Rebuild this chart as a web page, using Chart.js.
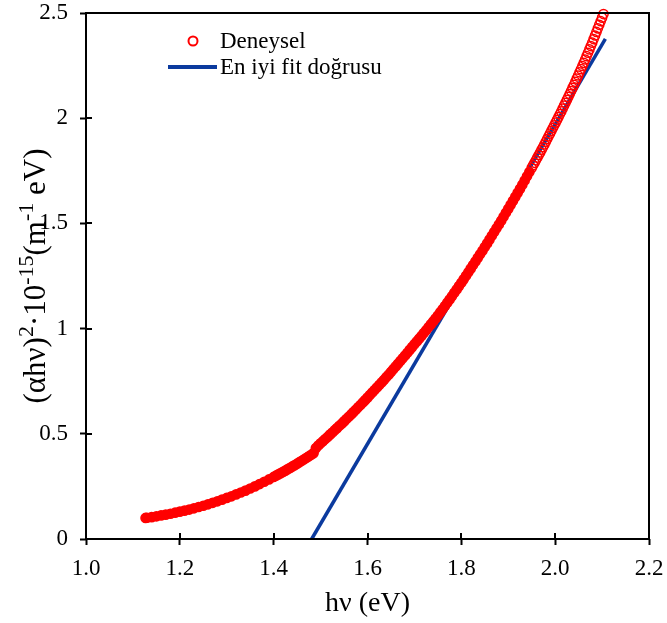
<!DOCTYPE html>
<html>
<head>
<meta charset="utf-8">
<script src="https://cdn.jsdelivr.net/npm/chart.js@4.4.1/dist/chart.umd.min.js"></script>
<style>
  html, body { margin: 0; padding: 0; background: #ffffff; }
  #wrap { width: 667px; height: 623px; }
</style>
</head>
<body>
<div id="wrap"><canvas id="c" width="667" height="623"></canvas></div>
<script>
// ---- data ----
const hv = [
  1.127, 1.13, 1.14, 1.15, 1.16, 1.17, 1.18, 1.19, 1.20, 1.21, 1.22, 1.23, 1.24, 1.25, 1.26,
  1.27, 1.28, 1.29, 1.30, 1.31, 1.32, 1.33, 1.34, 1.35, 1.36, 1.37, 1.38, 1.39, 1.40,
  1.405, 1.41, 1.415, 1.42, 1.425, 1.43, 1.435, 1.44, 1.445, 1.45, 1.455, 1.46, 1.465, 1.47, 1.475, 1.48, 1.485, 1.49, 1.495, 1.50,
  1.505, 1.51, 1.515, 1.52, 1.525, 1.53, 1.535, 1.54, 1.545, 1.55, 1.555, 1.56, 1.565, 1.57, 1.575, 1.58, 1.585, 1.59, 1.595, 1.60,
  1.605, 1.61, 1.615, 1.62, 1.625, 1.63, 1.635, 1.64, 1.645, 1.65, 1.655, 1.66, 1.665, 1.67, 1.675, 1.68, 1.685, 1.69, 1.695, 1.70,
  1.705, 1.71, 1.715, 1.72, 1.725, 1.73, 1.735, 1.74, 1.745, 1.75, 1.755, 1.76, 1.765, 1.77, 1.775, 1.78, 1.785, 1.79, 1.795, 1.80,
  1.805, 1.81, 1.815, 1.82, 1.825, 1.83, 1.835, 1.84, 1.845, 1.85, 1.855, 1.86, 1.865, 1.87, 1.875, 1.88, 1.885, 1.89, 1.895, 1.90,
  1.905, 1.91, 1.915, 1.92, 1.925, 1.93, 1.935, 1.94, 1.945, 1.95,
  1.953, 1.956, 1.959, 1.962, 1.965, 1.968, 1.971, 1.974, 1.977, 1.980, 1.983, 1.986,
  1.989, 1.992, 1.995, 1.998, 2.001, 2.004, 2.007, 2.010, 2.013, 2.016, 2.019, 2.022,
  2.025, 2.028, 2.031, 2.034, 2.037, 2.040, 2.043, 2.046, 2.049, 2.052, 2.055, 2.058,
  2.061, 2.064, 2.067, 2.070, 2.073, 2.076, 2.079, 2.082, 2.085, 2.088, 2.091, 2.094,
  2.097, 2.100, 2.103
];
const alphaHv2 = [
  0.100, 0.101, 0.104, 0.108, 0.112, 0.116, 0.120, 0.125, 0.130, 0.135, 0.140, 0.146, 0.152, 0.158, 0.165,
  0.172, 0.179, 0.187, 0.195, 0.203, 0.212, 0.221, 0.230, 0.240, 0.250, 0.261, 0.272, 0.283, 0.295,
  0.301, 0.307, 0.313, 0.319, 0.325, 0.332, 0.338, 0.345, 0.351, 0.358, 0.365, 0.372, 0.379, 0.386, 0.393, 0.400, 0.408, 0.432, 0.444, 0.455,
  0.465, 0.475, 0.485, 0.496, 0.506, 0.517, 0.527, 0.538, 0.548, 0.559, 0.570, 0.581, 0.592, 0.603, 0.614, 0.626, 0.637, 0.649, 0.660, 0.672,
  0.684, 0.696, 0.708, 0.720, 0.732, 0.744, 0.756, 0.769, 0.781, 0.794, 0.807, 0.820, 0.833, 0.846, 0.859, 0.872, 0.885, 0.899, 0.912, 0.926,
  0.939, 0.952, 0.965, 0.979, 0.992, 1.006, 1.020, 1.034, 1.048, 1.062, 1.077, 1.092, 1.107, 1.123, 1.138, 1.154, 1.170, 1.186, 1.202, 1.218,
  1.234, 1.251, 1.268, 1.285, 1.302, 1.319, 1.336, 1.353, 1.370, 1.388, 1.405, 1.423, 1.441, 1.459, 1.477, 1.495, 1.513, 1.532, 1.551, 1.569,
  1.588, 1.607, 1.626, 1.645, 1.664, 1.684, 1.704, 1.724, 1.744, 1.764,
  1.776, 1.788, 1.800, 1.813, 1.825, 1.837, 1.850, 1.862, 1.875, 1.888, 1.901, 1.914,
  1.927, 1.940, 1.953, 1.966, 1.979, 1.992, 2.005, 2.019, 2.032, 2.046, 2.060, 2.073,
  2.087, 2.101, 2.115, 2.129, 2.144, 2.158, 2.173, 2.188, 2.203, 2.218, 2.233, 2.248,
  2.263, 2.279, 2.295, 2.311, 2.327, 2.343, 2.359, 2.376, 2.393, 2.410, 2.427, 2.444,
  2.461, 2.478, 2.495
];
if (hv.length !== alphaHv2.length) throw new Error('length mismatch ' + hv.length + ' vs ' + alphaHv2.length);
const fitHv = [1.481, 2.107];
const fitY  = [0, 2.377];
const xTicks = [1.0, 1.2, 1.4, 1.6, 1.8, 2.0, 2.2];
const yTicks = [0, 0.5, 1, 1.5, 2, 2.5];
const seriesNames = ['Deneysel', 'En iyi fit doğrusu'];
const xTitle = 'hν (eV)';
// y title pieces: [text, isSuperscript]
const yTitleParts = [['(αhν)', false], ['2', true], ['·10', false], ['-15', true], ['(m', false], ['-1', true], [' eV)', false]];

const RED = '#ff0000';
const BLUE = '#0b3a9e';
const SERIF = "'Liberation Serif', 'Times New Roman', serif";

const frameAndExtras = {
  id: 'frameAndExtras',
  afterDraw(chart) {
    const ctx = chart.ctx;
    const a = chart.chartArea;
    const xs = chart.scales.x, ys = chart.scales.y;
    ctx.save();
    // frame
    ctx.strokeStyle = '#000';
    ctx.lineWidth = 2;
    ctx.strokeRect(a.left, a.top, a.right - a.left, a.bottom - a.top);
    // inner tick halves
    ctx.beginPath();
    xs.ticks.forEach(t => {
      const px = Math.round(xs.getPixelForValue(t.value));
      ctx.moveTo(px, a.bottom); ctx.lineTo(px, a.bottom - 6);
    });
    ys.ticks.forEach(t => {
      const py = Math.round(ys.getPixelForValue(t.value));
      ctx.moveTo(a.left, py); ctx.lineTo(a.left + 6, py);
    });
    ctx.stroke();

    // legend
    const ds0 = chart.data.datasets[0], ds1 = chart.data.datasets[1];
    ctx.font = '23px ' + SERIF;
    ctx.fillStyle = '#000';
    ctx.textAlign = 'left';
    ctx.textBaseline = 'middle';
    ctx.beginPath();
    ctx.arc(193, 41, 4.5, 0, Math.PI * 2);
    ctx.strokeStyle = ds0.pointBorderColor;
    ctx.lineWidth = 2;
    ctx.stroke();
    ctx.fillText(ds0.label, 220, 42);
    ctx.beginPath();
    ctx.moveTo(168, 67); ctx.lineTo(217, 67);
    ctx.strokeStyle = ds1.borderColor;
    ctx.lineWidth = 4;
    ctx.stroke();
    ctx.fillText(ds1.label, 220, 68);

    // y axis title with superscripts
    const fs = 31, sfs = 22;
    ctx.translate(36, 276);
    ctx.rotate(-Math.PI / 2);
    ctx.textBaseline = 'alphabetic';
    let total = 0;
    yTitleParts.forEach(([t, sup]) => {
      ctx.font = (sup ? sfs : fs) + 'px ' + SERIF;
      total += ctx.measureText(t).width;
    });
    let x = -total / 2;
    yTitleParts.forEach(([t, sup]) => {
      ctx.font = (sup ? sfs : fs) + 'px ' + SERIF;
      ctx.fillText(t, x, sup ? -3 : 8.5);
      x += ctx.measureText(t).width;
    });
    ctx.restore();
  }
};

new Chart(document.getElementById('c'), {
  type: 'scatter',
  data: {
    datasets: [
      {
        label: seriesNames[0],
        data: hv.map((v, i) => ({ x: v, y: alphaHv2[i] })),
        pointRadius: 4.6,
        pointBorderWidth: 1.5,
        pointBorderColor: RED,
        pointBackgroundColor: (c) => (c.raw && c.raw.x < 1.95) ? RED : 'rgba(255,0,0,0)',
        showLine: false,
        clip: false,
        order: 0
      },
      {
        label: seriesNames[1],
        type: 'line',
        data: fitHv.map((v, i) => ({ x: v, y: fitY[i] })),
        borderColor: BLUE,
        borderWidth: 3.5,
        pointRadius: 0,
        fill: false,
        clip: false,
        order: 1
      }
    ]
  },
  options: {
    responsive: false,
    animation: false,
    devicePixelRatio: 1,
    events: [],
    layout: { padding: { left: 0, right: 18, top: 13, bottom: 0 } },
    plugins: { legend: { display: false }, tooltip: { enabled: false } },
    scales: {
      x: {
        type: 'linear',
        min: 1.0, max: 2.2,
        afterBuildTicks: (s) => { s.ticks = xTicks.map(v => ({ value: v })); },
        afterFit: (s) => { s.height = 84; s.paddingLeft = 0; s.paddingRight = 0; },
        border: { display: false },
        grid: { drawOnChartArea: false, drawTicks: true, tickLength: 6, tickColor: '#000', tickWidth: 2 },
        ticks: {
          color: '#000', padding: 10, maxRotation: 0, autoSkip: false,
          font: { family: SERIF, size: 23 },
          callback: (v) => Number(v).toFixed(1)
        },
        title: {
          display: true, text: xTitle, color: '#000',
          font: { family: SERIF, size: 28 },
          padding: { top: 0, bottom: 3 }
        }
      },
      y: {
        type: 'linear',
        min: 0, max: 2.5,
        afterBuildTicks: (s) => { s.ticks = yTicks.map(v => ({ value: v })); },
        afterFit: (s) => { s.width = 86; s.paddingTop = 0; s.paddingBottom = 0; },
        border: { display: false },
        grid: { drawOnChartArea: false, drawTicks: true, tickLength: 6, tickColor: '#000', tickWidth: 2 },
        ticks: {
          color: '#000', padding: 12, autoSkip: false,
          font: { family: SERIF, size: 23 },
          callback: (v) => String(v)
        }
      }
    }
  },
  plugins: [frameAndExtras]
});
</script>
</body>
</html>
